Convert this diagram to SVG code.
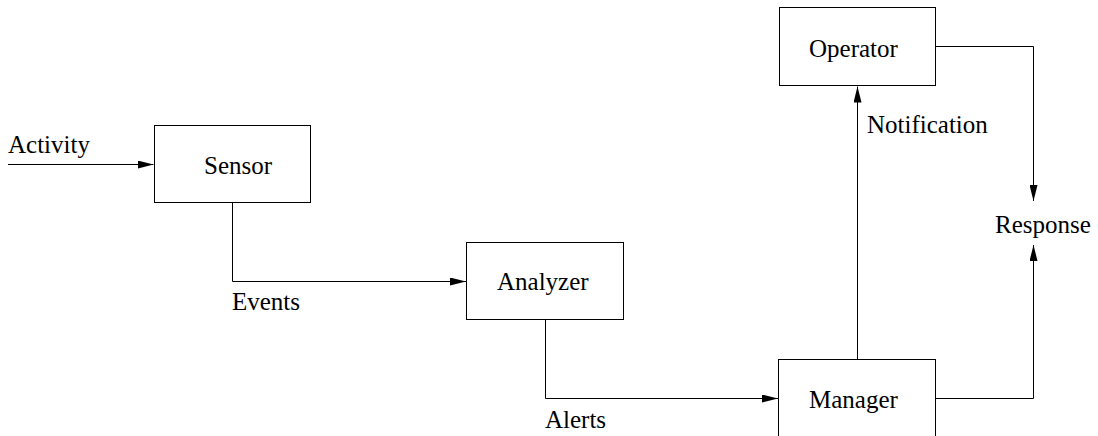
<svg xmlns="http://www.w3.org/2000/svg" width="1098" height="436" viewBox="0 0 1098 436">
  <style>
    .box { fill: #fff; stroke: #000; stroke-width: 1; }
    .wire { fill: none; stroke: #000; stroke-width: 1; }
    .lbl { font-family: 'Liberation Serif', 'Times New Roman', 'DejaVu Serif', serif; font-size: 25px; fill: #000; }
  </style>
  <defs>
    <marker id="arrow" viewBox="0 0 16 8" refX="16" refY="4" markerWidth="16" markerHeight="8" markerUnits="userSpaceOnUse" orient="auto">
      <path d="M0,0 L16,4 L0,8 Z" fill="#000"/>
    </marker>
  </defs>

  <g id="connectors">
    <path class="wire" d="M8,164.5 H153.5" marker-end="url(#arrow)"/>
    <path class="wire" d="M232.5,203 V281.5 H466" marker-end="url(#arrow)"/>
    <path class="wire" d="M545.5,319.5 V398.5 H778" marker-end="url(#arrow)"/>
    <path class="wire" d="M857.5,359.5 V86.5" marker-end="url(#arrow)"/>
    <path class="wire" d="M935.5,46.5 H1033.5 V201" marker-end="url(#arrow)"/>
    <path class="wire" d="M935.5,398.5 H1033.5 V245" marker-end="url(#arrow)"/>
  </g>

  <g id="labels" class="lbl">
    <text x="8" y="153">Activity</text>
    <text x="232" y="310">Events</text>
    <text x="545" y="428">Alerts</text>
    <text x="867" y="133">Notification</text>
    <text x="995" y="233">Response</text>
  </g>

  <g id="sensor">
    <rect class="box" x="154.5" y="125.5" width="156" height="77"/>
    <text class="lbl" x="204" y="174">Sensor</text>
  </g>
  <g id="analyzer">
    <rect class="box" x="466.5" y="242.5" width="157" height="77"/>
    <text class="lbl" x="497" y="290">Analyzer</text>
  </g>
  <g id="manager">
    <rect class="box" x="778.5" y="359.5" width="157" height="90"/>
    <text class="lbl" x="809" y="408">Manager</text>
  </g>
  <g id="operator">
    <rect class="box" x="779.5" y="7.5" width="156" height="78"/>
    <text class="lbl" x="809" y="57">Operator</text>
  </g>
</svg>
